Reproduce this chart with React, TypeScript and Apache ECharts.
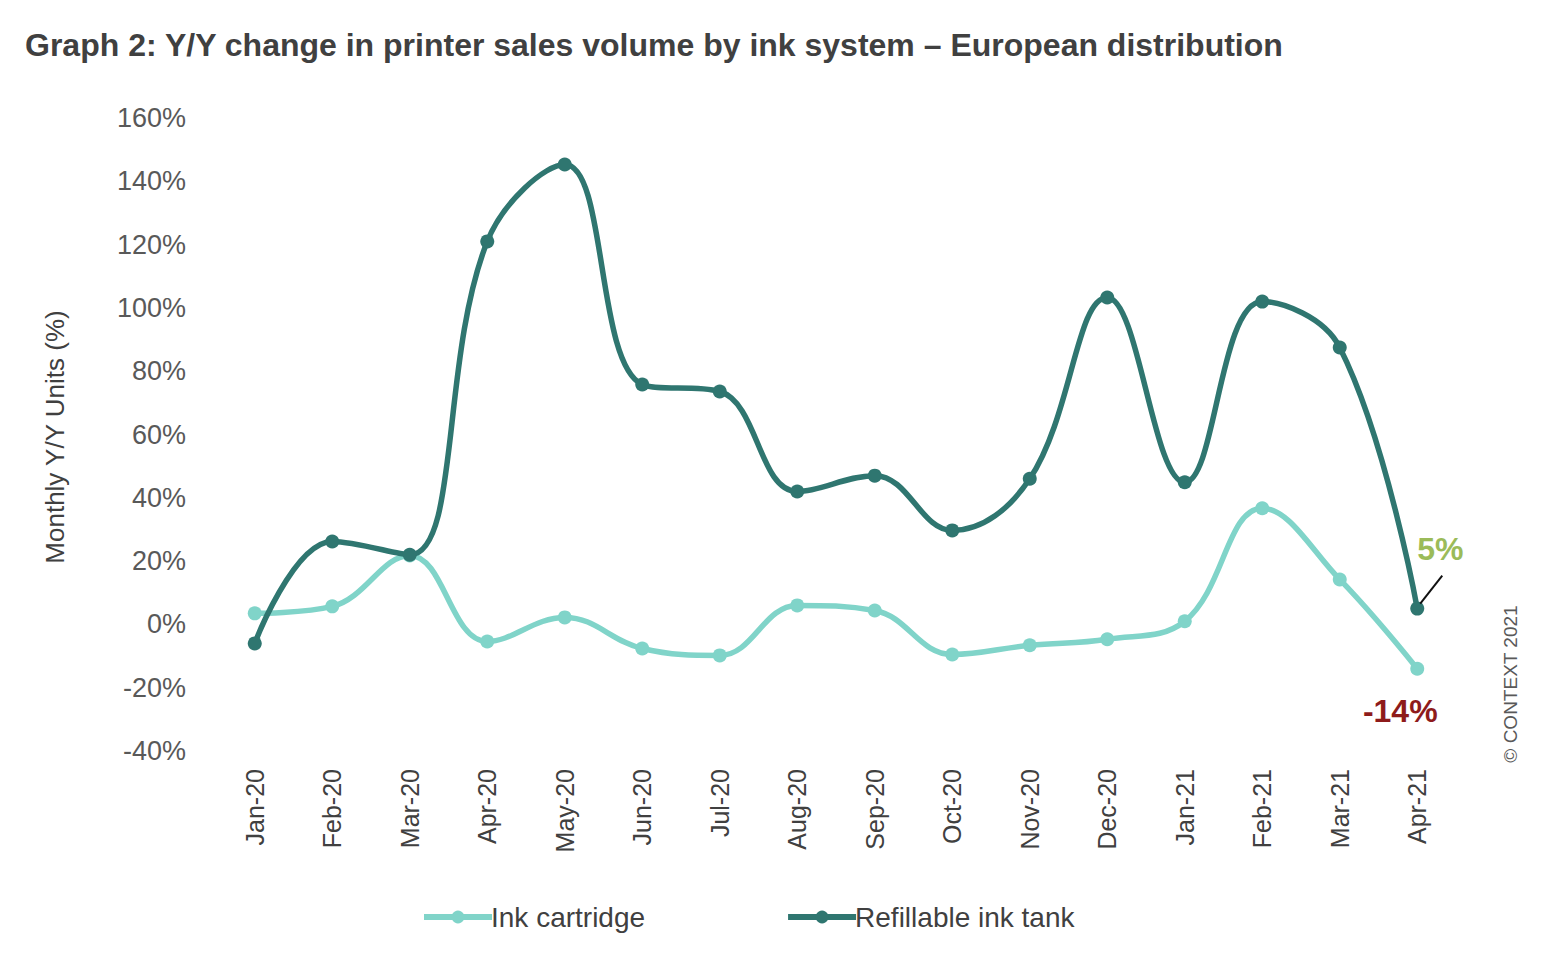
import React, { useEffect, useRef } from "react";
import * as echarts from "echarts";

const months = ["Jan-20","Feb-20","Mar-20","Apr-20","May-20","Jun-20","Jul-20","Aug-20","Sep-20","Oct-20","Nov-20","Dec-20","Jan-21","Feb-21","Mar-21","Apr-21"];
const inkCartridge = [3.5, 5.7, 21.8, -5.4, 2.2, -7.6, -9.8, 6, 4.4, -9.5, -6.6, -4.7, 1, 36.7, 14.2, -14];
const refillableTank = [-6, 26.2, 22, 121, 145.3, 75.8, 73.6, 42, 47, 29.7, 46, 103.3, 44.9, 102, 87.5, 5];

const NARROW = "'Liberation Sans Narrow', 'Arial Narrow', 'Liberation Sans', Arial, sans-serif";
const SANS = "'Liberation Sans', Arial, sans-serif";
const LIGHT = "#80d4c9";
const DARK = "#2f7670";

export default function App() {
  const ref = useRef<HTMLDivElement>(null);
  useEffect(() => {
    document.body.style.margin = "0";
    const chart = echarts.init(ref.current!, null, { renderer: "svg" });
    const last = months.length - 1;
    chart.setOption({
      animation: false,
      backgroundColor: "#ffffff",
      title: {
        text: "Graph 2: Y/Y change in printer sales volume by ink system – European distribution",
        left: 20,
        top: 24,
        textStyle: { fontFamily: SANS, fontSize: 32, fontWeight: "bold", color: "#404040" },
      },
      grid: { left: 216, right: 104, top: 118, bottom: 211, containLabel: false },
      legend: {
        bottom: 26,
        left: 416,
        itemWidth: 68,
        itemHeight: 16,
        itemGap: 140,
        textStyle: { fontFamily: NARROW, fontSize: 28, color: "#404040", padding: [0, 0, 0, -6] },
        data: [
          { name: "Ink cartridge", itemStyle: { color: LIGHT }, lineStyle: { width: 6 } },
          { name: "Refillable ink tank", itemStyle: { color: DARK }, lineStyle: { width: 6 } },
        ],
      },
      xAxis: {
        type: "category",
        data: months,
        boundaryGap: true,
        axisLine: { show: false },
        axisTick: { show: false },
        axisLabel: { rotate: 90, margin: 18, fontFamily: NARROW, fontSize: 25, color: "#404040", interval: 0 },
      },
      yAxis: {
        type: "value",
        min: -40,
        max: 160,
        interval: 20,
        axisLine: { show: false },
        axisTick: { show: false },
        axisLabel: { formatter: "{value}%", margin: 30, fontFamily: NARROW, fontSize: 27, color: "#595959" },
        splitLine: {
          lineStyle: {
            width: 2,
            color: (v: number) => (v === 0 ? "#c8c8c8" : "#ececec"),
          },
        },
      },
      series: [
        {
          name: "Ink cartridge",
          type: "line",
          smooth: 0.4,
          symbol: "circle",
          symbolSize: 14,
          lineStyle: { width: 5.5, color: LIGHT },
          itemStyle: { color: LIGHT },
          data: inkCartridge.map((v, i) =>
            i === last
              ? {
                  value: v,
                  label: {
                    show: true,
                    formatter: "-14%",
                    position: "bottom",
                    offset: [-17, 14],
                    fontFamily: NARROW,
                    fontSize: 32,
                    fontWeight: "bold",
                    color: "#8e1b1b",
                  },
                }
              : v
          ),
          z: 2,
        },
        {
          name: "Refillable ink tank",
          type: "line",
          smooth: 0.4,
          symbol: "circle",
          symbolSize: 14,
          lineStyle: { width: 5.5, color: DARK },
          itemStyle: { color: DARK },
          data: refillableTank.map((v, i) =>
            i === last
              ? {
                  value: v,
                  label: {
                    show: true,
                    formatter: "5%",
                    position: "top",
                    offset: [23, -32],
                    fontFamily: NARROW,
                    fontSize: 32,
                    fontWeight: "bold",
                    color: "#9bbb59",
                  },
                }
              : v
          ),
          z: 3,
        },
      ],
    });
    const p = chart.convertToPixel({ xAxisIndex: 0, yAxisIndex: 0 }, [last, refillableTank[last]]) as number[];
    chart.setOption({
      graphic: [
        {
          type: "line",
          shape: { x1: p[0] + 3, y1: p[1] - 5, x2: p[0] + 25, y2: p[1] - 33 },
          style: { stroke: "#111", lineWidth: 2 },
          z: 10,
        },
        {
          type: "text",
          x: 55,
          y: 437,
          rotation: Math.PI / 2,
          style: {
            text: "Monthly Y/Y Units (%)",
            fontFamily: NARROW,
            fontSize: 26,
            fill: "#404040",
            align: "center",
            verticalAlign: "middle",
          },
        },
        {
          type: "text",
          x: 1510,
          y: 684,
          rotation: Math.PI / 2,
          style: {
            text: "© CONTEXT 2021",
            fontFamily: SANS,
            fontSize: 19,
            fill: "#595959",
            align: "center",
            verticalAlign: "middle",
          },
        },
      ],
    });
    return () => chart.dispose();
  }, []);
  return <div ref={ref} style={{ width: 1560, height: 962 }} />;
}
